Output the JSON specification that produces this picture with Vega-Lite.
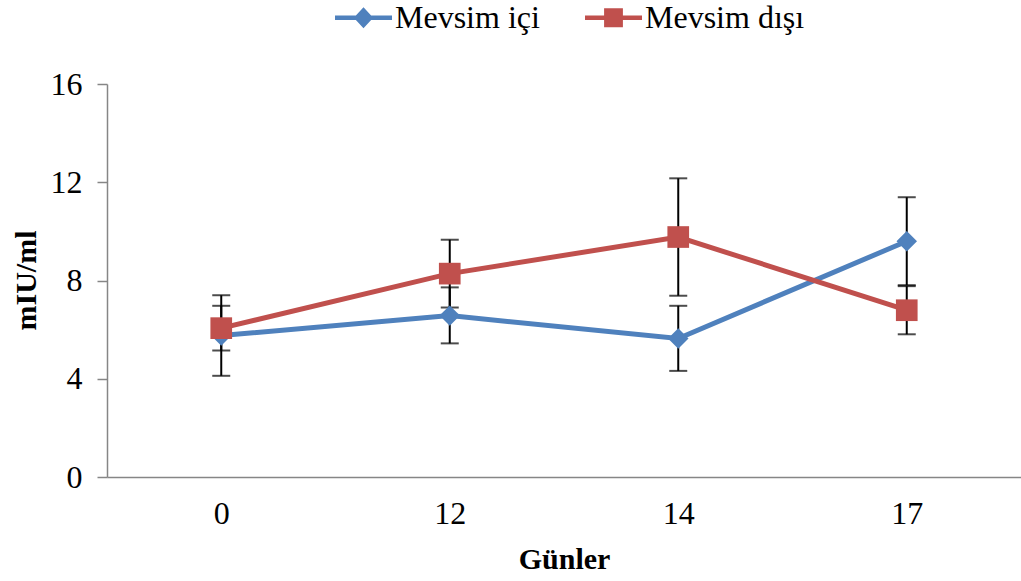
{
  "$schema": "https://vega.github.io/schema/vega-lite/v6.json",
  "width": 914,
  "height": 393,
  "autosize": {"type": "none"},
  "padding": {"left": 107, "top": 84, "right": 0, "bottom": 104},
  "background": "white",
  "config": {"view": {"stroke": null}, "font": "Liberation Serif"},
  "data": {
    "values": [
      {"day": "0", "series": "Mevsim içi", "v": 5.76, "lo": 4.12, "hi": 7.40},
      {"day": "12", "series": "Mevsim içi", "v": 6.57, "lo": 5.44, "hi": 7.72},
      {"day": "14", "series": "Mevsim içi", "v": 5.64, "lo": 4.32, "hi": 6.97},
      {"day": "17", "series": "Mevsim içi", "v": 9.60, "lo": 7.81, "hi": 11.39},
      {"day": "0", "series": "Mevsim dışı", "v": 6.06, "lo": 5.15, "hi": 6.97},
      {"day": "12", "series": "Mevsim dışı", "v": 8.28, "lo": 6.90, "hi": 9.66},
      {"day": "14", "series": "Mevsim dışı", "v": 9.77, "lo": 7.38, "hi": 12.16},
      {"day": "17", "series": "Mevsim dışı", "v": 6.79, "lo": 5.81, "hi": 7.77}
    ]
  },
  "encoding": {
    "x": {
      "field": "day", "type": "ordinal", "sort": ["0", "12", "14", "17"],
      "scale": {"type": "point", "padding": 0.5},
      "axis": {
        "title": "Günler", "titleFontSize": 30, "titleFontWeight": "bold", "titleColor": "black",
        "titleY": 91, "titleBaseline": "alphabetic",
        "labelFontSize": 32, "labelColor": "black", "labelAngle": 0, "labelFont": "Liberation Serif",
        "ticks": false, "tickSize": 0, "labelPadding": 46, "labelBaseline": "alphabetic",
        "domainColor": "#868686", "domainWidth": 1.5
      }
    }
  },
  "layer": [
    {
      "mark": {"type": "rule", "color": "black", "strokeWidth": 2},
      "encoding": {
        "y": {"field": "lo", "type": "quantitative", "scale": {"domain": [0, 16], "nice": false},
          "axis": {
            "title": "mIU/ml", "values": [0, 4, 8, 12, 16], "grid": false,
            "tickSize": 10, "tickColor": "#868686", "tickWidth": 1.5, "domainColor": "#868686", "domainWidth": 1.5,
            "labelPadding": 15, "labelFontSize": 32, "labelColor": "black",
            "titleFontSize": 30, "titleFontWeight": "bold", "titleColor": "black",
            "titleX": -72, "titleY": 196, "titleAngle": 270, "titleBaseline": "alphabetic", "titleAlign": "center"
          }},
        "y2": {"field": "hi"}
      }
    },
    {
      "mark": {"type": "tick", "orient": "horizontal", "color": "black", "size": 18, "thickness": 2},
      "encoding": {"y": {"field": "lo", "type": "quantitative"}}
    },
    {
      "mark": {"type": "tick", "orient": "horizontal", "color": "black", "size": 18, "thickness": 2},
      "encoding": {"y": {"field": "hi", "type": "quantitative"}}
    },
    {
      "transform": [{"filter": "datum.series === 'Mevsim içi'"}],
      "mark": {"type": "line", "color": "#4F81BD", "strokeWidth": 5},
      "encoding": {"y": {"field": "v", "type": "quantitative"}}
    },
    {
      "transform": [{"filter": "datum.series === 'Mevsim içi'"}],
      "mark": {"type": "point", "shape": "diamond", "filled": true, "opacity": 1, "color": "#4F81BD", "size": 420, "strokeWidth": 0},
      "encoding": {"y": {"field": "v", "type": "quantitative"}}
    },
    {
      "transform": [{"filter": "datum.series === 'Mevsim dışı'"}],
      "mark": {"type": "line", "color": "#C0504D", "strokeWidth": 5},
      "encoding": {"y": {"field": "v", "type": "quantitative"}}
    },
    {
      "transform": [{"filter": "datum.series === 'Mevsim dışı'"}],
      "mark": {"type": "point", "shape": "square", "filled": true, "opacity": 1, "color": "#C0504D", "size": 470, "strokeWidth": 0},
      "encoding": {"y": {"field": "v", "type": "quantitative"}}
    },
    {
      "mark": {"type": "point", "filled": true, "opacity": 0, "strokeWidth": 0},
      "encoding": {
        "y": {"field": "v", "type": "quantitative"},
        "color": {
          "field": "series", "type": "nominal",
          "scale": {"domain": ["Mevsim içi", "Mevsim dışı"], "range": ["#4F81BD", "#C0504D"]},
          "legend": {
            "title": null, "orient": "none", "direction": "horizontal",
            "legendX": 228, "legendY": -95,
            "labelFontSize": 32, "labelColor": "black", "labelFont": "Liberation Serif",
            "labelOffset": 3, "columnPadding": 45, "symbolSize": 3249, "symbolOpacity": 1,
            "symbolStrokeWidth": 0, "labelLimit": 400,
            "encode": {"symbols": {"update": {"opacity": {"value": 1}}}}
          }
        },
        "shape": {
          "field": "series", "type": "nominal",
          "scale": {
            "domain": ["Mevsim içi", "Mevsim dışı"],
            "range": [
              "M-1,-0.08H1V0.08H-1Z M-0.34,0L0,-0.37L0.34,0L0,0.37Z",
              "M-1,-0.08H1V0.08H-1Z M-0.33,-0.33H0.33V0.33H-0.33Z"
            ]
          }
        }
      }
    }
  ]
}
